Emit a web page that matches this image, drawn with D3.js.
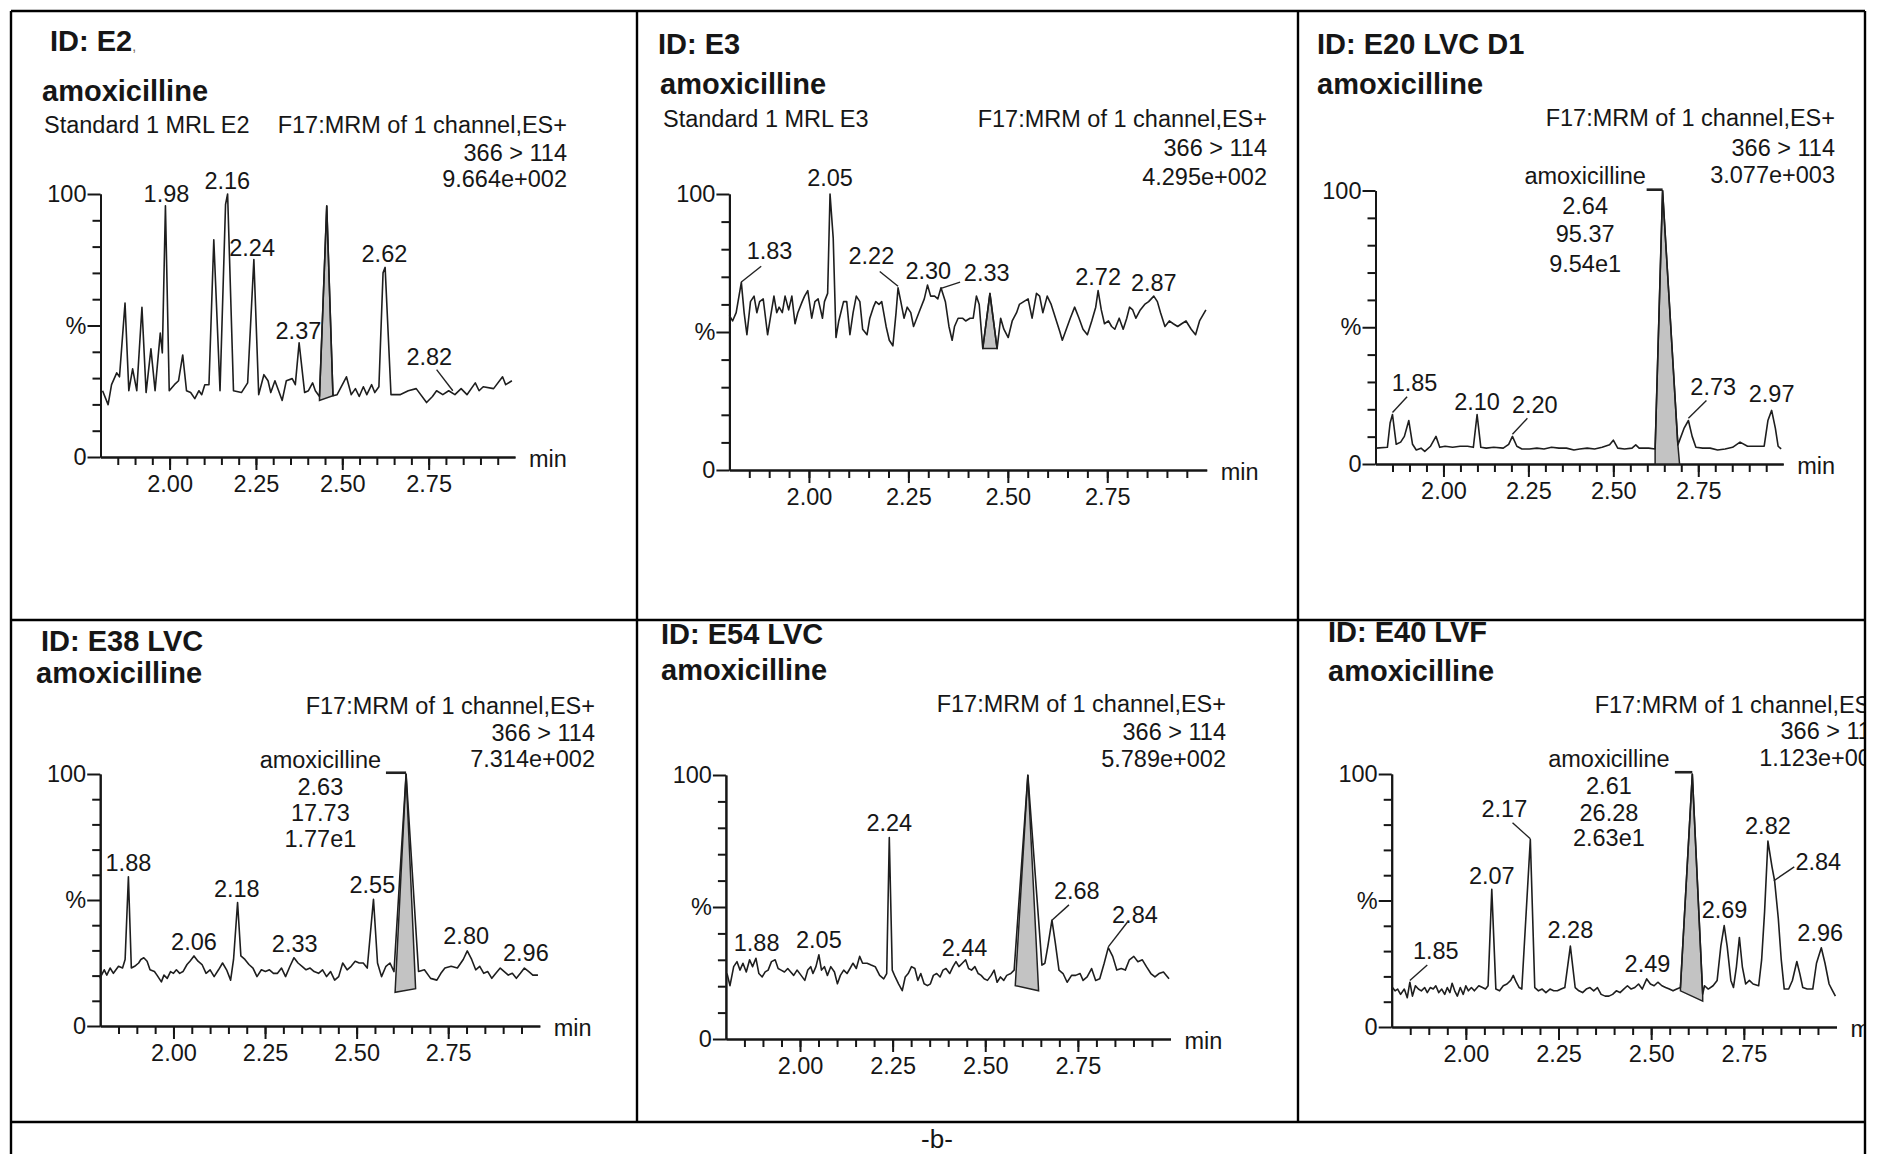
<!DOCTYPE html>
<html lang="en">
<head>
<meta charset="UTF-8">
<title>amoxicilline chromatograms</title>
<script src="https://d3js.org/d3.v7.min.js"></script>
<style>
  body { margin: 0; background: #fff; }
  svg text { font-family: "Liberation Sans", Arial, sans-serif; fill: #161616; }
</style>
</head>
<body>
<script>
// ---- axis settings ----
const timeDomain = [1.80, 3.00];
const xMinorTicks = [1.85, 1.90, 1.95, 2.00, 2.05, 2.10, 2.15, 2.20, 2.25, 2.30, 2.35, 2.40,
                     2.45, 2.50, 2.55, 2.60, 2.65, 2.70, 2.75, 2.80, 2.85, 2.90, 2.95];
const xMajorTicks = [2.00, 2.25, 2.50, 2.75];
const yMinorTicks = [10, 20, 30, 40, 60, 70, 80, 90];
const yMajorTicks = [0, 50, 100];
const yTickLabels = ["0", "%", "100"];

// ---- header texts ----
const sampleIds = ["ID: E2", "ID: E3", "ID: E20 LVC D1", "ID: E38 LVC", "ID: E54 LVC", "ID: E40 LVF"];
const compound = "amoxicilline";
const sampleNames = ["Standard 1 MRL E2", "Standard 1 MRL E3", "", "", "", ""];
const functionName = "F17:MRM of 1 channel,ES+";
const transition = "366 > 114";
const intensities = ["9.664e+002", "4.295e+002", "3.077e+003", "7.314e+002", "5.789e+002", "1.123e+003"];
const caption = "-b-";

// ---- traces: [time (min), relative intensity %] ----
const traceE2 = [[1.806,25.2],[1.822,19.9],[1.832,27.5],[1.847,32.0],[1.855,30.5],[1.871,58.5],[1.882,25.2],[1.893,33.5],[1.905,25.2],[1.920,56.9],[1.932,24.5],[1.946,41.1],[1.958,25.2],[1.973,47.1],[1.979,39.6],[1.988,95.5],[1.999,25.2],[2.014,27.5],[2.026,29.0],[2.038,38.8],[2.049,25.2],[2.061,24.5],[2.073,22.2],[2.085,25.2],[2.093,23.7],[2.102,27.5],[2.114,27.5],[2.128,82.6],[2.146,25.2],[2.162,96],[2.168,100],[2.185,25.2],[2.208,24.5],[2.226,28.2],[2.244,75.1],[2.258,23.7],[2.273,31.3],[2.285,29.0],[2.293,24.5],[2.305,29.0],[2.326,21.5],[2.338,29.0],[2.355,29.8],[2.364,27.5],[2.375,43.4],[2.391,24.5],[2.402,25.2],[2.414,28.2],[2.422,25.2],[2.434,23.0],[2.455,95.5],[2.473,23.3],[2.485,23.7],[2.512,30.5],[2.526,23.7],[2.538,26.0],[2.549,23.0],[2.561,26.7],[2.571,23.7],[2.585,27.5],[2.594,24.5],[2.606,26.7],[2.618,70],[2.624,72.1],[2.641,23.7],[2.667,23.7],[2.691,25.2],[2.714,26.0],[2.744,20.7],[2.761,23.0],[2.773,25.2],[2.791,23.7],[2.808,25.2],[2.826,23.7],[2.844,26.0],[2.861,23.7],[2.885,28.2],[2.896,25.2],[2.908,26.7],[2.938,26.0],[2.964,30.5],[2.973,27.5],[2.991,29.0]];

const traceE3 = [[1.800,56],[1.808,54],[1.817,57],[1.830,68],[1.837,57],[1.844,49],[1.853,61],[1.862,63],[1.869,57],[1.876,61],[1.885,62],[1.896,49],[1.904,56],[1.912,63],[1.919,57],[1.925,59],[1.933,57],[1.940,63],[1.949,58],[1.957,63],[1.965,53],[1.972,57],[1.983,61],[1.989,63],[1.997,65],[2.007,55],[2.015,61],[2.023,62],[2.034,55],[2.039,61],[2.047,64],[2.053,100],[2.061,84],[2.068,48],[2.075,54],[2.087,61],[2.095,61],[2.103,49],[2.111,57],[2.119,63],[2.128,61],[2.135,51],[2.146,49],[2.153,55],[2.162,59],[2.168,61],[2.176,60],[2.183,61],[2.194,52],[2.202,47],[2.211,45],[2.219,57],[2.224,66],[2.231,61],[2.239,55],[2.247,59],[2.256,57],[2.263,52],[2.271,55],[2.279,58],[2.290,62],[2.298,67],[2.306,63],[2.316,63],[2.324,62],[2.332,66],[2.343,61],[2.352,52],[2.360,47],[2.366,52],[2.375,55],[2.386,55],[2.394,54],[2.405,55],[2.413,55],[2.421,63],[2.428,60],[2.437,44],[2.455,64],[2.473,44],[2.482,55],[2.490,51],[2.501,48],[2.511,54],[2.522,57],[2.529,60],[2.540,61],[2.551,62],[2.561,55],[2.572,64],[2.580,63],[2.588,57],[2.599,63],[2.609,60],[2.620,55],[2.631,50],[2.637,47],[2.647,51],[2.657,55],[2.668,59],[2.679,55],[2.689,51],[2.700,49],[2.711,54],[2.721,59],[2.727,65],[2.735,58],[2.743,53],[2.753,54],[2.761,52],[2.769,51],[2.780,55],[2.790,51],[2.799,55],[2.806,59],[2.814,58],[2.822,55],[2.833,58],[2.844,60],[2.854,61],[2.867,63],[2.876,61],[2.884,57],[2.895,52],[2.906,54],[2.916,53],[2.927,52],[2.937,53],[2.948,54],[2.961,51],[2.972,49],[2.982,54],[2.998,58]];

const traceE20 = [[1.802,5.8],[1.835,6.1],[1.843,15],[1.850,18.1],[1.861,7.2],[1.874,8.0],[1.885,10.1],[1.898,15.9],[1.909,7.2],[1.920,5.1],[1.934,5.8],[1.945,4.6],[1.962,6.5],[1.978,10.1],[1.989,6.1],[2.005,6.5],[2.027,6.1],[2.049,6.5],[2.071,6.5],[2.088,6.1],[2.099,18.1],[2.110,6.1],[2.126,5.8],[2.148,6.1],[2.176,5.8],[2.192,7.2],[2.203,10.1],[2.216,6.5],[2.231,5.5],[2.253,5.5],[2.275,5.8],[2.296,5.5],[2.318,6.1],[2.340,5.8],[2.362,5.8],[2.384,5.1],[2.401,5.5],[2.423,5.8],[2.445,5.5],[2.467,6.1],[2.489,7.0],[2.500,8.7],[2.513,5.8],[2.533,5.5],[2.555,5.8],[2.566,7.0],[2.576,5.8],[2.604,5.8],[2.623,5.5],[2.645,100],[2.690,7.0],[2.708,13.0],[2.721,15.9],[2.732,10.1],[2.743,6.1],[2.763,5.8],[2.785,5.8],[2.807,5.1],[2.829,5.5],[2.851,6.1],[2.873,8.0],[2.895,6.5],[2.917,6.5],[2.944,6.5],[2.955,15.9],[2.966,19.6],[2.977,13.0],[2.985,6.5],[2.994,5.5]];

const traceE38 = [[1.799,18.9],[1.811,22.3],[1.818,20.2],[1.827,23.0],[1.836,20.9],[1.850,23.7],[1.861,23.0],[1.868,26.4],[1.877,59.2],[1.885,23.0],[1.894,23.7],[1.905,25.0],[1.911,26.4],[1.919,27.1],[1.928,25.7],[1.936,22.3],[1.948,21.6],[1.955,20.2],[1.967,17.5],[1.974,20.2],[1.983,18.9],[1.992,21.6],[2.000,20.9],[2.008,22.3],[2.017,20.9],[2.026,21.6],[2.037,24.4],[2.045,25.7],[2.056,27.8],[2.067,25.7],[2.078,24.4],[2.089,20.9],[2.100,22.3],[2.111,19.6],[2.123,22.3],[2.134,25.0],[2.145,22.3],[2.156,18.2],[2.164,26.4],[2.175,49.0],[2.184,27.8],[2.195,26.4],[2.206,24.4],[2.217,23.0],[2.228,19.6],[2.240,22.3],[2.251,21.6],[2.262,22.3],[2.273,20.9],[2.284,20.9],[2.295,23.0],[2.306,19.6],[2.318,23.7],[2.329,27.1],[2.340,25.0],[2.351,23.7],[2.362,22.3],[2.373,23.0],[2.384,21.6],[2.396,20.9],[2.407,22.3],[2.418,19.6],[2.429,21.6],[2.440,18.2],[2.451,19.6],[2.462,25.0],[2.474,22.3],[2.485,23.7],[2.496,25.7],[2.507,25.0],[2.518,25.0],[2.529,23.0],[2.546,50.3],[2.557,25.0],[2.568,19.6],[2.580,23.7],[2.591,25.0],[2.602,21.6],[2.635,100],[2.669,21.6],[2.685,22.3],[2.702,18.9],[2.719,18.2],[2.730,20.9],[2.741,23.0],[2.758,23.7],[2.775,23.0],[2.791,26.4],[2.802,29.8],[2.814,26.4],[2.825,22.3],[2.836,23.7],[2.847,20.9],[2.858,21.6],[2.869,18.9],[2.880,20.9],[2.892,23.0],[2.903,21.6],[2.914,20.2],[2.925,20.9],[2.936,18.9],[2.947,20.9],[2.958,23.0],[2.970,21.6],[2.981,20.2],[2.995,20.2]];

const traceE54 = [[1.803,24.8],[1.811,20.2],[1.821,27.4],[1.830,29.3],[1.838,26.1],[1.846,28.7],[1.855,25.4],[1.864,30.0],[1.872,27.4],[1.881,30.6],[1.889,24.8],[1.898,23.5],[1.906,25.4],[1.914,26.1],[1.923,29.3],[1.933,30.0],[1.941,26.7],[1.949,26.1],[1.958,25.4],[1.967,26.7],[1.975,25.4],[1.983,24.1],[1.992,26.1],[2.003,24.1],[2.013,22.2],[2.021,26.1],[2.029,27.4],[2.035,24.8],[2.043,27.4],[2.051,31.9],[2.058,26.1],[2.066,27.4],[2.074,24.1],[2.083,27.4],[2.093,25.4],[2.101,20.9],[2.109,24.1],[2.118,26.1],[2.127,24.8],[2.135,26.7],[2.143,28.7],[2.152,26.7],[2.161,31.3],[2.169,28.7],[2.181,28.7],[2.192,28.0],[2.203,27.4],[2.215,24.1],[2.226,22.8],[2.234,24.8],[2.241,76.3],[2.249,26.1],[2.257,23.5],[2.266,20.9],[2.276,18.3],[2.284,23.5],[2.292,24.8],[2.301,27.4],[2.310,26.7],[2.318,22.2],[2.326,24.8],[2.335,20.9],[2.344,20.2],[2.352,20.9],[2.360,24.1],[2.369,24.8],[2.378,23.5],[2.386,26.1],[2.394,26.7],[2.404,24.8],[2.413,27.4],[2.421,29.3],[2.429,27.4],[2.438,28.7],[2.447,30.0],[2.455,26.7],[2.463,26.1],[2.472,27.4],[2.481,24.8],[2.489,24.1],[2.497,22.8],[2.506,22.2],[2.516,24.1],[2.524,26.1],[2.532,21.5],[2.541,23.5],[2.550,22.2],[2.558,24.1],[2.569,24.8],[2.578,26.1],[2.615,100],[2.653,28.0],[2.661,28.7],[2.669,35.2],[2.680,45.0],[2.689,36.5],[2.699,26.1],[2.710,24.8],[2.721,21.5],[2.733,24.1],[2.744,24.1],[2.756,24.8],[2.764,22.2],[2.775,23.5],[2.787,26.7],[2.798,22.2],[2.809,22.8],[2.821,28.7],[2.832,34.6],[2.844,31.3],[2.855,26.1],[2.867,26.7],[2.878,26.1],[2.889,30.0],[2.901,31.3],[2.912,29.3],[2.924,30.0],[2.935,27.4],[2.947,24.8],[2.958,23.5],[2.969,24.8],[2.981,25.4],[2.996,22.8]];

const traceE40 = [[1.802,15.6],[1.809,14.3],[1.816,15.0],[1.824,12.9],[1.834,15.0],[1.842,11.6],[1.849,17.7],[1.856,12.2],[1.864,16.3],[1.872,15.0],[1.880,14.3],[1.889,15.6],[1.896,13.6],[1.904,15.6],[1.912,15.0],[1.919,16.3],[1.927,13.6],[1.935,15.0],[1.943,12.9],[1.950,15.6],[1.957,13.6],[1.963,17.3],[1.970,14.3],[1.977,12.2],[1.985,15.6],[1.993,12.9],[2.000,16.3],[2.007,14.3],[2.015,15.6],[2.023,14.3],[2.035,16.3],[2.045,15.6],[2.053,15.0],[2.060,16.3],[2.070,54.4],[2.081,15.0],[2.091,14.3],[2.101,16.3],[2.111,17.0],[2.121,18.4],[2.128,20.4],[2.136,17.7],[2.144,15.6],[2.151,15.0],[2.174,74.1],[2.186,15.6],[2.196,14.3],[2.206,15.0],[2.216,13.6],[2.227,15.0],[2.237,14.3],[2.247,14.3],[2.257,15.0],[2.267,15.6],[2.282,32.0],[2.295,15.6],[2.305,14.3],[2.315,13.6],[2.325,15.0],[2.335,15.6],[2.345,14.3],[2.355,15.6],[2.365,12.9],[2.376,12.2],[2.386,12.2],[2.396,12.9],[2.406,14.3],[2.416,13.6],[2.426,15.0],[2.436,16.3],[2.446,15.0],[2.456,15.6],[2.466,17.0],[2.476,15.0],[2.488,19.0],[2.498,17.0],[2.508,16.3],[2.518,17.7],[2.529,16.3],[2.539,15.6],[2.549,15.0],[2.559,14.3],[2.569,15.0],[2.579,15.6],[2.611,100],[2.639,13.0],[2.644,16.3],[2.654,15.0],[2.667,16.3],[2.678,18.4],[2.688,32.0],[2.697,40.1],[2.705,32.0],[2.715,18.4],[2.722,15.6],[2.730,23.8],[2.738,35.4],[2.746,23.8],[2.755,17.0],[2.765,18.4],[2.775,17.0],[2.790,16.3],[2.798,26.5],[2.806,45.6],[2.815,73.5],[2.826,63.3],[2.833,57.8],[2.843,42.9],[2.851,26.5],[2.859,15.0],[2.871,15.0],[2.881,18.4],[2.893,25.9],[2.901,21.1],[2.909,15.6],[2.921,15.0],[2.936,15.0],[2.946,25.2],[2.959,31.3],[2.969,25.2],[2.980,17.0],[2.987,15.0],[2.997,12.2]];

// ---- integrated (shaded) peaks: [start, end, base % at start, base % at end] ----
const shadeE2  = [2.434, 2.473, 21.5, 23.3];
const shadeE3  = [2.437, 2.473, 44, 44];
const shadeE20 = [2.623, 2.695, 0, 0];
const shadeE38 = [2.605, 2.661, 13.4, 14.8];
const shadeE54 = [2.581, 2.644, 20.2, 18.3];
const shadeE40 = [2.579, 2.639, 14.3, 10.2];

// ---- peak labels: [text, time, %, optional leader [t1, p1, t2, p2]] ----
const labelsE2 = [["1.98",1.991,97.0],["2.16",2.167,101.8],["2.24",2.239,76.6],["2.37",2.373,44.9],
  ["2.62",2.622,74.3],["2.82",2.752,35.0,[2.773,33.2,2.820,25.2]]];
const labelsE3 = [["1.83",1.901,76.3,[1.880,73.8,1.830,68.1]],["2.05",2.053,102.9],
  ["2.22",2.157,74.8,[2.178,71.9,2.224,66.6]],["2.30",2.300,69.1],
  ["2.33",2.447,68.6,[2.380,68.1,2.332,65.8]],["2.72",2.727,67.2],["2.87",2.867,64.7]];
const labelsE20 = [["1.85",1.915,26.8,[1.893,24.6,1.850,18.8]],["2.10",2.099,19.6],
  ["2.20",2.269,18.8,[2.247,16.7,2.203,10.9]],["2.73",2.794,25.4,[2.774,23.2,2.721,16.7]],["2.97",2.966,22.5],
  ["amoxicilline",2.417,102.2,[2.598,100.3,2.645,100.3]],["2.64",2.417,91.3],["95.37",2.417,81.2],["9.54e1",2.417,70.3]];
const labelsE38 = [["1.88",1.877,61.7],["2.06",2.056,30.2],["2.18",2.173,51.0],["2.33",2.331,29.4],
  ["2.55",2.543,52.7],["2.80",2.799,32.6],["2.96",2.962,25.7],
  ["amoxicilline",2.401,102.3,[2.580,100.5,2.635,100.5]],["2.63",2.401,91.8],["17.73",2.401,81.4],["1.77e1",2.401,70.9]];
const labelsE54 = [["1.88",1.883,33.2],["2.05",2.051,34.6],["2.24",2.241,78.9],["2.44",2.444,31.3],
  ["2.68",2.747,53.2,[2.726,50.8,2.680,45.0]],["2.84",2.904,44.1,[2.884,44.3,2.832,34.9]]];
const labelsE40 = [["1.85",1.919,26.8,[1.896,24.5,1.849,18.4]],["2.07",2.070,56.7],
  ["2.17",2.104,83.0,[2.126,80.7,2.174,74.4]],["2.28",2.282,35.0],["2.49",2.490,21.8],["2.69",2.698,43.1],
  ["2.82",2.815,76.2],["2.84",2.951,62.2,[2.886,63.3,2.831,57.8]],["2.96",2.956,34.0],
  ["amoxicilline",2.386,102.7,[2.564,100.7,2.611,100.7]],["2.61",2.386,92.1],["26.28",2.386,81.6],["2.63e1",2.386,71.4]];

const traces = [traceE2, traceE3, traceE20, traceE38, traceE54, traceE40];
const shades = [shadeE2, shadeE3, shadeE20, shadeE38, shadeE54, shadeE40];
const labels = [labelsE2, labelsE3, labelsE20, labelsE38, labelsE54, labelsE40];

// ---- page layout (pixels) ----
const layout = [
  {cell:[11,11,637,620],     xr:[100.5,515],     yr:[457,194],   id:[50,51],    cmp:[42,101],   smp:[44,133],  hdrX:567,  hdrY:[133,161,187]},
  {cell:[637,11,1298,620],   xr:[729.4,1206.7],  yr:[470,194],   id:[658,54],   cmp:[660,94],   smp:[663,127], hdrX:1267, hdrY:[127,156,185]},
  {cell:[1298,11,1865,620],  xr:[1375.5,1783.2], yr:[464,190.5], id:[1317,54],  cmp:[1317,94],  hdrX:1835, hdrY:[126,156,183]},
  {cell:[11,620,637,1122],   xr:[100.2,539.8],   yr:[1026,774],  id:[41,651],   cmp:[36,683],   hdrX:595,  hdrY:[714,741,767]},
  {cell:[637,620,1298,1122], xr:[725.9,1170.5],  yr:[1039,775],  id:[661,644],  cmp:[661,680],  hdrX:1226, hdrY:[712,740,767]},
  {cell:[1298,620,1865,1122],xr:[1391.7,1836.5], yr:[1027,774],  id:[1328,642], cmp:[1328,681], hdrX:1884, hdrY:[713,739,766]}
];

const W = 1881, H = 1154;
const FS = 23.5, FB = 29;
const ink = "#161616";

const svg = d3.select("body").append("svg")
    .attr("width", W)
    .attr("height", H);

layout.forEach((L, i) => {
  const clipId = "cell" + i;
  svg.append("clipPath").attr("id", clipId).append("rect")
      .attr("x", L.cell[0]).attr("y", L.cell[1])
      .attr("width", L.cell[2] - L.cell[0]).attr("height", L.cell[3] - L.cell[1]);
  const g = svg.append("g").attr("clip-path", `url(#${clipId})`);

  const x = d3.scaleLinear().domain(timeDomain).range(L.xr);
  const y = d3.scaleLinear().domain([0, 100]).range(L.yr);

  // titles
  const idText = g.append("text").attr("x", L.id[0]).attr("y", L.id[1])
      .attr("font-size", FB).attr("font-weight", "bold").text(sampleIds[i]);
  if (i === 0) idText.append("tspan").attr("font-size", 14).attr("font-weight", "normal")
      .style("fill", "#7a6a55").text(",");
  g.append("text").attr("x", L.cmp[0]).attr("y", L.cmp[1])
      .attr("font-size", FB).attr("font-weight", "bold").text(compound);
  if (sampleNames[i]) g.append("text").attr("x", L.smp[0]).attr("y", L.smp[1])
      .attr("font-size", FS).text(sampleNames[i]);
  [functionName, transition, intensities[i]].forEach((t, k) => {
    g.append("text").attr("x", L.hdrX).attr("y", L.hdrY[k])
        .attr("font-size", FS).attr("text-anchor", "end").text(t);
  });

  // axes
  const y0 = L.yr[0], x0 = L.xr[0];
  const styleAxis = a => {
    a.style("color", ink);
    a.selectAll("path,line").attr("stroke-width", 2);
    a.selectAll("text").attr("font-size", FS).attr("font-family", null);
  };
  g.append("g").attr("transform", `translate(0,${y0})`)
      .call(d3.axisBottom(x).tickValues(xMinorTicks).tickSize(8).tickSizeOuter(0).tickFormat(""))
      .call(styleAxis);
  g.append("g").attr("transform", `translate(0,${y0})`)
      .call(d3.axisBottom(x).tickValues(xMajorTicks).tickSize(13).tickSizeOuter(0).tickPadding(5)
        .tickFormat(d3.format(".2f")))
      .call(styleAxis);
  g.append("g").attr("transform", `translate(${x0},0)`)
      .call(d3.axisLeft(y).tickValues(yMinorTicks).tickSize(8).tickSizeOuter(0).tickFormat(""))
      .call(styleAxis);
  g.append("g").attr("transform", `translate(${x0},0)`)
      .call(d3.axisLeft(y).tickValues(yMajorTicks).tickSize(13).tickSizeOuter(0).tickPadding(1)
        .tickFormat((d, k) => yTickLabels[k]))
      .call(styleAxis);
  g.append("text").attr("x", L.xr[1] + 14).attr("y", y0 + 10)
      .attr("font-size", FS).text("min");

  // integrated peak
  const s = shades[i];
  const tr = traces[i];
  const poly = [[s[0], s[2]]].concat(tr.filter(d => d[0] >= s[0] && d[0] <= s[1]), [[s[1], s[3]]]);
  const line = d3.line().x(d => x(d[0])).y(d => y(d[1]));
  g.append("path").attr("d", line(poly) + "Z")
      .attr("fill", "#c3c3c3").attr("stroke", "#222").attr("stroke-width", 1.5);

  // trace
  g.append("path").datum(tr).attr("d", line)
      .attr("fill", "none").attr("stroke", "#1e1e1e").attr("stroke-width", 1.6)
      .attr("stroke-linejoin", "round");

  // peak labels
  labels[i].forEach(lb => {
    g.append("text").attr("x", x(lb[1])).attr("y", y(lb[2]))
        .attr("font-size", FS).attr("text-anchor", "middle").text(lb[0]);
    if (lb[3]) {
      const m = lb[3];
      g.append("line")
          .attr("x1", x(m[0])).attr("y1", y(m[1])).attr("x2", x(m[2])).attr("y2", y(m[3]))
          .attr("stroke", "#222").attr("stroke-width", lb[0] === compound ? 2.6 : 1.4);
    }
  });
});

// table borders
const border = [
  [11, 11, 1865, 11], [11, 620, 1865, 620], [11, 1122, 1865, 1122],
  [11, 11, 11, H], [1865, 11, 1865, H], [637, 11, 637, 1122], [1298, 11, 1298, 1122]
];
svg.selectAll("line.border").data(border).enter().append("line")
    .attr("class", "border")
    .attr("x1", d => d[0]).attr("y1", d => d[1]).attr("x2", d => d[2]).attr("y2", d => d[3])
    .attr("stroke", "#000").attr("stroke-width", 2.4);

svg.append("text").attr("x", 937).attr("y", 1148)
    .attr("font-size", 26).attr("text-anchor", "middle").text(caption);
</script>
</body>
</html>
